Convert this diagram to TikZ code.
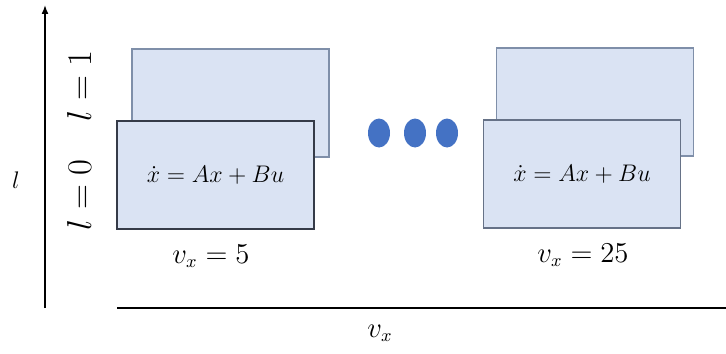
\documentclass[tikz,border=0pt]{standalone}
\usepackage{amsmath,amssymb}
\usepackage{tikz}
\usetikzlibrary{arrows.meta,positioning,shapes.geometric}
\definecolor{planefill}{HTML}{DAE3F3}
\definecolor{planeedge}{HTML}{7F8FA9}
\definecolor{frontedge}{HTML}{353B48}
\definecolor{dotblue}{HTML}{4472C4}

\begin{document}
\begin{tikzpicture}[
    x=0.5pt, y=-0.5pt,
    plane/.style={draw=planeedge, fill=planefill, line width=0.6pt, minimum width=98.5pt, minimum height=54pt, inner sep=0pt},
    front/.style={plane, draw=frontedge, font=\fontsize{12.4}{15}\selectfont},
    dotnode/.style={ellipse, fill=dotblue, minimum width=11pt, minimum height=14.5pt, inner sep=0pt},
    lvl/.style={rotate=90, font=\LARGE},
    lab/.style={font=\fontsize{13.5}{16}\selectfont},
    axis/.style={line width=0.8pt, -{Latex[length=4.5pt, width=3.5pt]}}
]
\useasboundingbox (0,0) rectangle (726,353);

% vertical axis l
\coordinate (lbot) at (45,308);
\coordinate (ltop) at (45,5);
\draw[axis] (lbot) -- (ltop);
\node[font=\large] (llab) at (16,180) {$l$};
\node[lvl] (lone) at (79,86) {$l=1$};
\node[lvl] (lzero) at (79,195) {$l=0$};

% horizontal axis v_x
\coordinate (vleft) at (117,308);
\coordinate (vright) at (726,308);
\draw[line width=1.1pt] (vleft) -- (vright);
\node[lab] (vlab) at (380,333) {$v_x$};

% planes at v_x = 5
\node[plane] (back5) at (230.5,103) {};
\node[front] (front5) at (215.5,175) {\raisebox{-3.5pt}{$\dot{x}=Ax+Bu$}};
\node[lab] (v5) at (211,256) {$v_x=5$};

% dots
\node[dotnode] (d1) at (379,133) {};
\node[dotnode] (d2) at (415,133) {};
\node[dotnode] (d3) at (447,133) {};

% planes at v_x = 25
\node[plane] (back25) at (595,102) {};
\node[front, draw=planeedge!80!black] (front25) at (582,174) {\raisebox{-3pt}{$\dot{x}=Ax+Bu$}};
\node[lab] (v25) at (583,255) {$v_x=25$};
\end{tikzpicture}
\end{document}
